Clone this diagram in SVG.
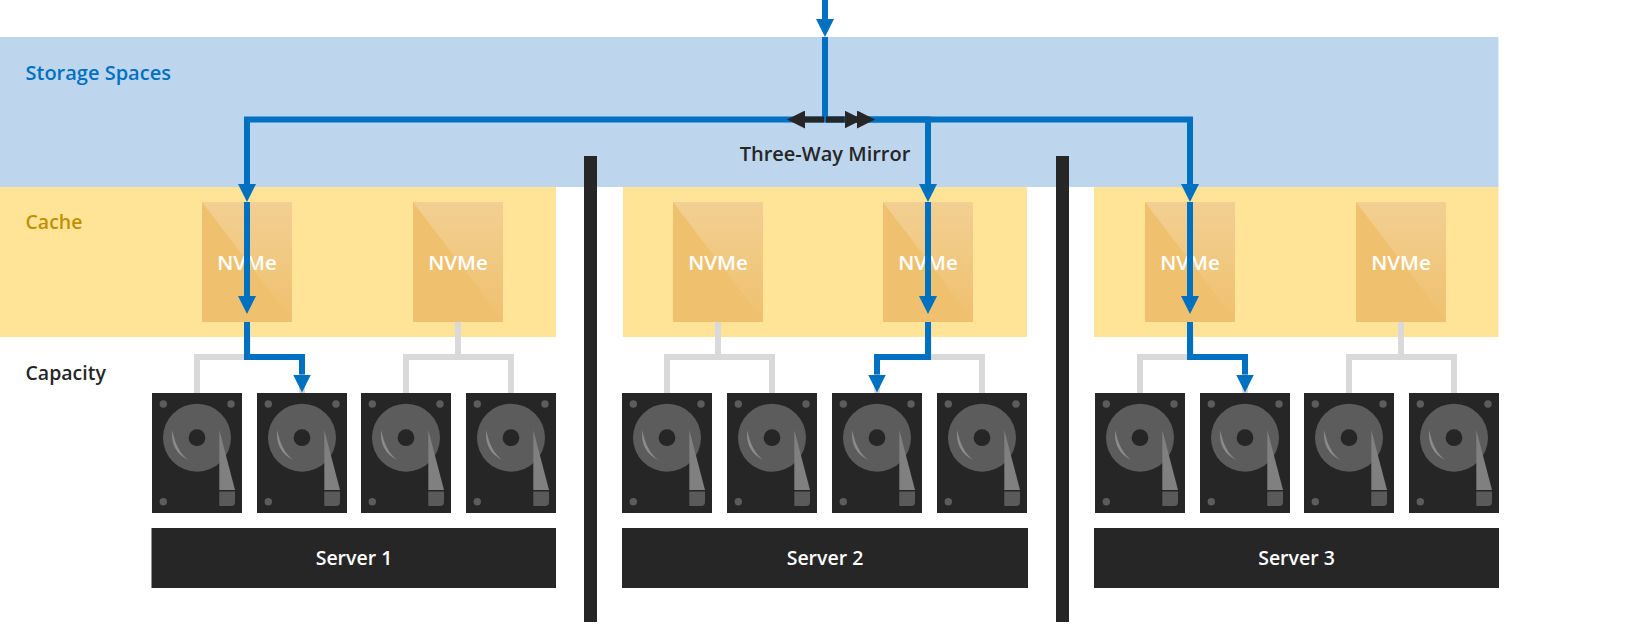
<svg xmlns="http://www.w3.org/2000/svg" width="1650" height="628" viewBox="0 0 1650 628">
<style>
text{font-family:"Open Sans","Noto Sans","Liberation Sans",sans-serif;font-size:20px;font-weight:600}
.band{fill:#bdd6ee}.cache{fill:#ffe498}.bar{fill:#262626}
.nv{fill:#fff;text-anchor:middle;font-weight:600;font-size:20.500px}
.sv{fill:#fff;text-anchor:middle;font-size:19.500px}
.lb{font-size:19.500px}
.g{fill:none;stroke:#d9d9d9;stroke-width:6}
.b{fill:none;stroke:#0070c0;stroke-width:6;marker-end:url(#ba)}
.b0{fill:none;stroke:#0070c0;stroke-width:6}
.k{fill:none;stroke:#262626;stroke-width:6;marker-end:url(#ka)}
</style>
<defs>
<marker id="ba" markerUnits="userSpaceOnUse" markerWidth="18" markerHeight="18" viewBox="0 0 18 18" refX="0" refY="9" orient="auto"><path d="M0 0L18 9L0 18Z" fill="#0070c0"/></marker>
<marker id="ka" markerUnits="userSpaceOnUse" markerWidth="18" markerHeight="18" viewBox="0 0 18 18" refX="0" refY="9" orient="auto"><path d="M0 0L18 9L0 18Z" fill="#262626"/></marker>
<linearGradient id="sh" x1="0" y1="0" x2="0" y2="1"><stop offset="0" stop-color="#f2cf92"/><stop offset="1" stop-color="#efc16f"/></linearGradient>
<symbol id="nvme" width="90" height="120" viewBox="0 0 90 120">
<rect width="90" height="120" fill="#efc16f"/>
<path d="M0 0H90V118Z" fill="url(#sh)"/>
</symbol>
<symbol id="hdd" width="90" height="120" viewBox="0 0 90 120">
<rect width="90" height="120" fill="#262626"/>
<circle cx="45" cy="44.7" r="34" fill="#5c5c5c"/>
<circle cx="45" cy="44.7" r="8.4" fill="#262626"/>
<circle cx="11.3" cy="11" r="3.7" fill="#5c5c5c"/>
<circle cx="79" cy="11" r="3.7" fill="#5c5c5c"/>
<circle cx="11.3" cy="108.7" r="3.7" fill="#5c5c5c"/>
<path d="M20.3 37Q18 58 36.3 67Q24 58 20.3 37Z" fill="#8c8c8c"/>
<path d="M67.3 37V97H83Z" fill="#808080"/>
<path d="M67.3 98.5H83V109Q83 113 79 113H67.3Z" fill="#5a5a5a"/>
</symbol>
</defs>
<g id="storage-spaces">
<rect class="band" x="0" y="37" width="1498.5" height="150"/>
<text x="25.500" y="80" fill="#0070c0">Storage Spaces</text>
</g>
<g id="cache">
<rect class="cache" x="0" y="187" width="556" height="150"/>
<rect class="cache" x="623" y="187" width="404" height="150"/>
<rect class="cache" x="1094" y="187" width="404.5" height="150"/>
<text class="lb" x="25.500" y="229" fill="#bf9000">Cache</text>
</g>
<text id="capacity" class="lb" x="25.500" y="380" fill="#262626">Capacity</text>
<g id="nvme-1"><use href="#nvme" x="202" y="202"/><text class="nv" x="247" y="270">NVMe</text></g>
<g id="nvme-2"><use href="#nvme" x="413" y="202"/><text class="nv" x="458" y="270">NVMe</text></g>
<g id="nvme-3"><use href="#nvme" x="673" y="202"/><text class="nv" x="718" y="270">NVMe</text></g>
<g id="nvme-4"><use href="#nvme" x="883" y="202"/><text class="nv" x="928" y="270">NVMe</text></g>
<g id="nvme-5"><use href="#nvme" x="1145" y="202"/><text class="nv" x="1190" y="270">NVMe</text></g>
<g id="nvme-6"><use href="#nvme" x="1356" y="202"/><text class="nv" x="1401" y="270">NVMe</text></g>
<g id="hdd-1"><use href="#hdd" x="152" y="393"/></g>
<g id="hdd-2"><use href="#hdd" x="257" y="393"/></g>
<g id="hdd-3"><use href="#hdd" x="361" y="393"/></g>
<g id="hdd-4"><use href="#hdd" x="466" y="393"/></g>
<g id="hdd-5"><use href="#hdd" x="622" y="393"/></g>
<g id="hdd-6"><use href="#hdd" x="727" y="393"/></g>
<g id="hdd-7"><use href="#hdd" x="832" y="393"/></g>
<g id="hdd-8"><use href="#hdd" x="937" y="393"/></g>
<g id="hdd-9"><use href="#hdd" x="1095" y="393"/></g>
<g id="hdd-10"><use href="#hdd" x="1200" y="393"/></g>
<g id="hdd-11"><use href="#hdd" x="1304" y="393"/></g>
<g id="hdd-12"><use href="#hdd" x="1409" y="393"/></g>
<g id="server-1"><rect class="bar" x="151.500" y="528" width="404.500" height="60"/><text class="sv" x="354" y="565">Server 1</text></g>
<g id="server-2"><rect class="bar" x="622" y="528" width="406" height="60"/><text class="sv" x="825" y="565">Server 2</text></g>
<g id="server-3"><rect class="bar" x="1094" y="528" width="405" height="60"/><text class="sv" x="1296.500" y="565">Server 3</text></g>
<rect id="divider-1" class="bar" x="584" y="156" width="13" height="466"/>
<rect id="divider-2" class="bar" x="1056" y="156" width="13" height="466"/>
<text id="mirror-label" x="825" y="161" fill="#262626" text-anchor="middle">Three-Way Mirror</text>
<g id="connectors">
<path class="g" d="M247.500 322V357M197 393V357H302V393"/>
<path class="g" d="M458 322V357M406 393V357H511V393"/>
<path class="g" d="M718 322V357M667 393V357H772V393"/>
<path class="g" d="M928.500 322V357M877 393V357H982V393"/>
<path class="g" d="M1190.500 322V357M1140 393V357H1245V393"/>
<path class="g" d="M1401 322V357M1349 393V357H1454V393"/>
<path class="b" d="M825 0V19"/>
<path class="b0" d="M825 37V119.500"/>
<path class="b" d="M825 119.500H247V184"/>
<path class="b" d="M825 119.500H928V184"/>
<path class="b" d="M825 119.500H1190V184"/>
<path class="b" d="M247 202V296"/>
<path class="b" d="M928 202V296"/>
<path class="b" d="M1190 202V296"/>
<path class="b" d="M247 322V357H302V374.500"/>
<path class="b" d="M928 322V357H877V374.500"/>
<path class="b" d="M1190 322V357H1245V374.500"/>
<path class="k" d="M824 119.500H805"/>
<path class="k" d="M826 119.500H844.500"/>
<path class="k" d="M856 119.500H857"/>
</g>
</svg>
